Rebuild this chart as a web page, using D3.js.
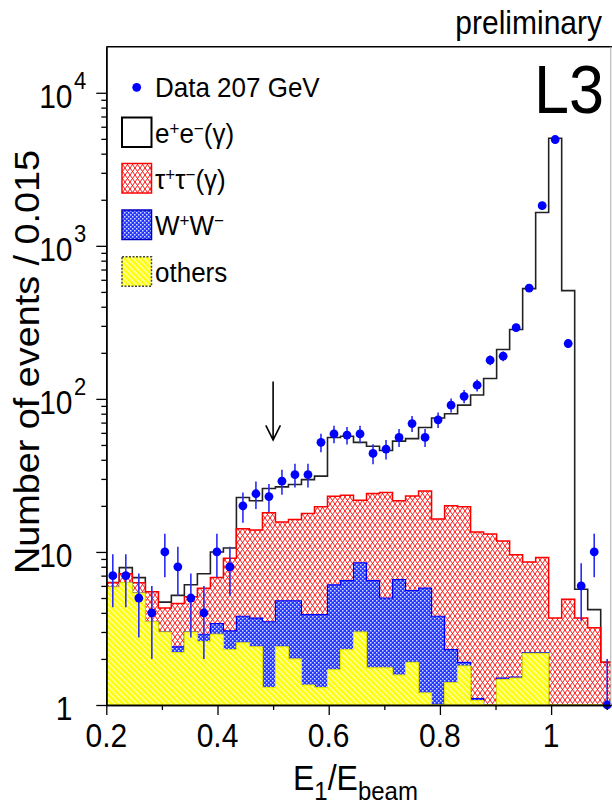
<!DOCTYPE html>
<html>
<head>
<meta charset="utf-8">
<script src="https://cdn.jsdelivr.net/npm/d3@7"></script>
<style>
  body { margin: 0; background: #fff; }
  svg { display: block; font-family: "Liberation Sans", Arial, Helvetica, sans-serif; }
</style>
</head>
<body>
<div id="chart"></div>
<script>
const WIDTH = 612;
const HEIGHT = 806;
const TEXT_SY = 1.08; // original picture is a little stretched vertically

// bins of E1/Ebeam
const BIN_LO = 0.2;
const BIN_W = 0.0234;

// data, 207 GeV
const dataCounts = [7, 7, 5, 4, 10, 8, 5, 4, 10, 8,
  20, 24, 23, 29, 32, 32, 52, 59, 58, 59,
  44, 47, 56, 69, 56, 73, 91, 104, 123, 179,
  190, 292, 530, 1830, 4950, 230, 6, 10, 1];

// MC, stacked (each histogram already contains the ones drawn below it)
const mcTotal = [6.3, 7.9, 6.8, 5.5, 4.7, 5.2, 6.1, 7.2, 10, 10.6,
  22.7, 21.6, 26, 26.6, 27.6, 29.7, 31.3, 56, 57, 52,
  49, 46, 53, 55, 65, 75, 80, 91, 106, 136,
  210, 284, 525, 1650, 5050, 510, 5.7, 4.2, 1.9];
const tauStack = [6.3, 7.2, 6.3, 5.5, 4.3, 4.6, 5.1, 5.8, 6.8, 9.1,
  14.2, 13.9, 18, 15.7, 16.3, 17.8, 19.7, 23.1, 23.5, 21.8,
  24.1, 24.5, 21.6, 23.2, 25, 16.4, 20, 19.7, 13.5, 13.1,
  11.8, 9.6, 8.6, 9.2, 3.7, 4.9, 3.7, 3.2, 1.9];
const wwStack = [5.9, 6.3, 5.4, 3.5, 3.0, 2.4, 3.0, 2.9, 3.4, 3.05,
  3.8, 3.7, 3.5, 4.8, 4.8, 3.9, 3.9, 6.1, 6.5, 8.5,
  6.5, 5.0, 6.6, 5.6, 5.8, 3.8, 2.3, 1.9, 1.1, 0,
  1.5, 1.52, 2.2, 2.2, 0, 0, 0, 0, 0];
const others = [5.9, 6.3, 5.4, 3.5, 3.0, 2.2, 3.0, 2.6, 2.9, 2.3,
  2.55, 2.4, 1.3, 2.4, 2.0, 1.35, 1.3, 1.7, 2.3, 3.0,
  1.75, 1.75, 1.57, 1.9, 1.2, 0, 1.4, 1.8, 1.07, 0,
  1.47, 1.5, 2.18, 2.18, 0, 0, 0, 0, 0];

const xMajorTicks = [0.2, 0.4, 0.6, 0.8, 1.0];
const xMajorLabels = ["0.2", "0.4", "0.6", "0.8", "1"];
const xMinorTicks = [0.3, 0.5, 0.7, 0.9, 1.1];
const yMajorTicks = [1, 10, 100, 1000, 10000];
const yMajorLabels = ["1", "10", "10", "10", "10"];
const yMajorExps = ["", "", "2", "3", "4"];

// cut arrow
const CUT_X = 0.5;
const ARROW_TOP = 130;
const ARROW_TIP = 54;

const legendEntries = [
  {key: "data", parts: [["Data 207 GeV"]]},
  {key: "ee", parts: [["e"], ["+", "sup"], ["e"], ["\u2212", "sup"], ["(\u03b3)"]]},
  {key: "tau", parts: [["\u03c4"], ["+", "sup"], ["\u03c4"], ["\u2212", "sup"], ["(\u03b3)"]]},
  {key: "ww", parts: [["W"], ["+", "sup"], ["W"], ["\u2212", "sup"]]},
  {key: "others", parts: [["others"]]}
];

let margin = {top: 46.7, right: 1, bottom: 101, left: 106.3};
let plotW = WIDTH - margin.left - margin.right;
let plotH = HEIGHT - margin.top - margin.bottom;

// setup x
let xScale = d3.scaleLinear().domain([0.2, 1.1077]).range([margin.left, margin.left + plotW]);
// setup y
let yScale = d3.scaleLog().domain([1, 2e4]).range([margin.top + plotH, margin.top]).clamp(true);
let yPos = function(v) { return yScale(Math.max(v, 0.5)); };

let svg = d3.select("#chart").append("svg")
    .attr("width", WIDTH)
    .attr("height", HEIGHT);

let defs = svg.append("defs");
defs.append("clipPath").attr("id", "plotClip")
  .append("rect")
    .attr("x", margin.left)
    .attr("y", margin.top)
    .attr("width", plotW)
    .attr("height", plotH);

// fill patterns
let pTau = defs.append("pattern").attr("id", "tauHatch")
    .attr("patternUnits", "userSpaceOnUse").attr("width", 5).attr("height", 7);
pTau.append("rect").attr("width", 5).attr("height", 7).attr("fill", "#fff");
pTau.append("path").attr("d", "M0,0L5,7M5,0L0,7")
    .attr("stroke", "#ff1010").attr("stroke-width", 1).attr("fill", "none");

let pWW = defs.append("pattern").attr("id", "wwDots")
    .attr("patternUnits", "userSpaceOnUse").attr("width", 4).attr("height", 4);
pWW.append("rect").attr("width", 4).attr("height", 4).attr("fill", "#2438ff");
pWW.append("rect").attr("x", 0).attr("y", 0).attr("width", 1.5).attr("height", 1.5).attr("fill", "#d8dcff");
pWW.append("rect").attr("x", 2).attr("y", 2).attr("width", 1.5).attr("height", 1.5).attr("fill", "#d8dcff");

let pOth = defs.append("pattern").attr("id", "othHatch")
    .attr("patternUnits", "userSpaceOnUse").attr("width", 4).attr("height", 4)
    .attr("patternTransform", "rotate(-45)");
pOth.append("rect").attr("width", 4).attr("height", 4).attr("fill", "#ffffc0");
pOth.append("rect").attr("width", 2.6).attr("height", 4).attr("fill", "#ffff00");

// histograms
let edges = d3.range(dataCounts.length + 1).map(function(i) { return BIN_LO + i * BIN_W; });
let histArea = d3.area()
    .curve(d3.curveStepAfter)
    .x(function(d) { return xScale(d.x); })
    .y0(yScale(1))
    .y1(function(d) { return yPos(d.v); });
function histPoints(vals) {
  return edges.map(function(e, i) { return {x: e, v: vals[Math.min(i, vals.length - 1)]}; });
}

let histG = svg.append("g").attr("clip-path", "url(#plotClip)");
let hists = [
  {vals: mcTotal, fill: "#fff", stroke: "#222", sw: 1.6},
  {vals: tauStack, fill: "url(#tauHatch)", stroke: "#ff0000", sw: 1.5},
  {vals: wwStack, fill: "url(#wwDots)", stroke: "#0000ff", sw: 1.2},
  {vals: others, fill: "url(#othHatch)", stroke: "#e6e600", sw: 1}
];
hists.forEach(function(h) {
  histG.append("path")
      .attr("d", histArea(histPoints(h.vals)))
      .attr("fill", h.fill)
      .attr("stroke", h.stroke)
      .attr("stroke-width", h.sw);
});

// data points with sqrt(N) errors
let pts = dataCounts.map(function(n, i) { return {x: BIN_LO + (i + 0.5) * BIN_W, n: n}; });
let dotsG = svg.append("g").classed("data", true);
dotsG.selectAll("line.err").data(pts).enter()
  .append("line")
    .attr("class", "err")
    .attr("x1", function(d) { return xScale(d.x); })
    .attr("x2", function(d) { return xScale(d.x); })
    .attr("y1", function(d) { return yPos(d.n + Math.sqrt(d.n)); })
    .attr("y2", function(d) { return yPos(d.n - Math.sqrt(d.n)); })
    .attr("stroke", "#2a2af5")
    .attr("stroke-width", 1.6);
dotsG.selectAll("circle.dot").data(pts).enter()
  .append("circle")
    .attr("class", "dot")
    .attr("r", 4.4)
    .attr("cx", function(d) { return xScale(d.x); })
    .attr("cy", function(d) { return yScale(d.n); })
    .attr("fill", "#0000ff");

// arrow at the cut
let ax = xScale(CUT_X);
let aTip = yScale(ARROW_TIP);
svg.append("path")
    .attr("d", `M${ax},${yScale(ARROW_TOP)}L${ax},${aTip}M${ax - 7.3},${aTip - 14.5}L${ax},${aTip}L${ax + 7.3},${aTip - 14.5}`)
    .attr("fill", "none")
    .attr("stroke", "#000")
    .attr("stroke-width", 1.6);

// axes
let axisY0 = margin.top + plotH;
function styleAxis(g) {
  g.select(".domain").attr("stroke", "#000").attr("stroke-width", 1.5);
  g.selectAll(".tick line").attr("stroke", "#000").attr("stroke-width", 1.3);
}
svg.append("g")
    .attr("transform", `translate(0,${axisY0})`)
    .call(d3.axisBottom(xScale).tickValues(xMajorTicks).tickSize(10).tickSizeOuter(0).tickFormat(""))
    .call(styleAxis);
svg.append("g")
    .attr("transform", `translate(0,${axisY0})`)
    .call(d3.axisBottom(xScale).tickValues(xMinorTicks).tickSize(5).tickSizeOuter(0).tickFormat(""))
    .call(styleAxis);

let yMinor = [];
[1, 10, 100, 1000].forEach(function(dec) {
  d3.range(2, 10).forEach(function(m) { yMinor.push(m * dec); });
});
svg.append("g")
    .attr("transform", `translate(${margin.left},0)`)
    .call(d3.axisLeft(yScale).tickValues(yMajorTicks).tickSize(10).tickSizeOuter(0).tickFormat(""))
    .call(styleAxis);
svg.append("g")
    .attr("transform", `translate(${margin.left},0)`)
    .call(d3.axisLeft(yScale).tickValues(yMinor).tickSize(5).tickSizeOuter(0).tickFormat(""))
    .call(styleAxis);

// top and right frame
svg.append("line")
    .attr("x1", margin.left).attr("x2", WIDTH)
    .attr("y1", margin.top).attr("y2", margin.top)
    .attr("stroke", "#000").attr("stroke-width", 1.5);
svg.append("line")
    .attr("x1", 610.8).attr("x2", 610.8)
    .attr("y1", margin.top).attr("y2", axisY0)
    .attr("stroke", "#aaa").attr("stroke-width", 1);

// text helpers
function stretchedText(parent, x, y, size, anchor) {
  return parent.append("g")
      .attr("transform", `translate(${x},${y}) scale(1,${TEXT_SY})`)
    .append("text")
      .attr("text-anchor", anchor)
      .style("font-size", size + "px")
      .attr("fill", "#000");
}
function richText(t, parts, size, supSize, shift) {
  let raised = 0;
  parts.forEach(function(p) {
    let ts = t.append("tspan").text(p[0]);
    let want = p[1] === "sup" ? -shift : (p[1] === "sub" ? shift : 0);
    if (want !== raised) ts.attr("dy", want - raised);
    raised = want;
    ts.style("font-size", (p[1] ? supSize : size) + "px");
  });
}

// tick labels
xMajorTicks.forEach(function(v, i) {
  stretchedText(svg, xScale(v), 746.5, 30, "middle").text(xMajorLabels[i]);
});
yMajorTicks.forEach(function(v, i) {
  let ty = yScale(v);
  stretchedText(svg, 72.5, ty + 15, 30, "end").text(yMajorLabels[i]);
  if (yMajorExps[i]) {
    stretchedText(svg, 74, ty - 4, 22, "start").text(yMajorExps[i]);
  }
});

// axis titles
let xt = stretchedText(svg, 293, 790, 32, "start");
richText(xt, [["E"], ["1", "sub"], ["/E"], ["beam", "sub"]], 32, 24, 9);

svg.append("g")
    .attr("transform", `translate(39,362) scale(1,${TEXT_SY}) rotate(-90)`)
  .append("text")
    .attr("text-anchor", "middle")
    .style("font-size", "35px")
    .text("Number of events / 0.015");

stretchedText(svg, 602, 34, 30, "end").text("preliminary");
stretchedText(svg, 604, 113, 63, "end").text("L3");

// legend
let legG = svg.append("g").classed("legend", true);
let legY = [96.7, 142.5, 188.5, 235, 281.7];
let boxStyle = {
  ee: {fill: "#fff", stroke: "#000", sw: 2, dash: null},
  tau: {fill: "url(#tauHatch)", stroke: "#ff0000", sw: 1.5, dash: null},
  ww: {fill: "url(#wwDots)", stroke: "#0000c0", sw: 1.5, dash: null},
  others: {fill: "url(#othHatch)", stroke: "#444", sw: 1.5, dash: "2,1.5"}
};
legendEntries.forEach(function(e, i) {
  let by = legY[i];
  if (e.key === "data") {
    legG.append("circle").attr("cx", 136.7).attr("cy", by - 9.4).attr("r", 4.4).attr("fill", "#0000ff");
  } else {
    let s = boxStyle[e.key];
    legG.append("rect")
        .attr("x", 122).attr("y", by - 25).attr("width", 29.5).attr("height", 29.5)
        .attr("fill", s.fill)
        .attr("stroke", s.stroke)
        .attr("stroke-width", s.sw)
        .attr("stroke-dasharray", s.dash);
  }
  let t = stretchedText(legG, 155, by, 26, "start");
  richText(t, e.parts, 26, 17, 7);
});
</script>
</body>
</html>
